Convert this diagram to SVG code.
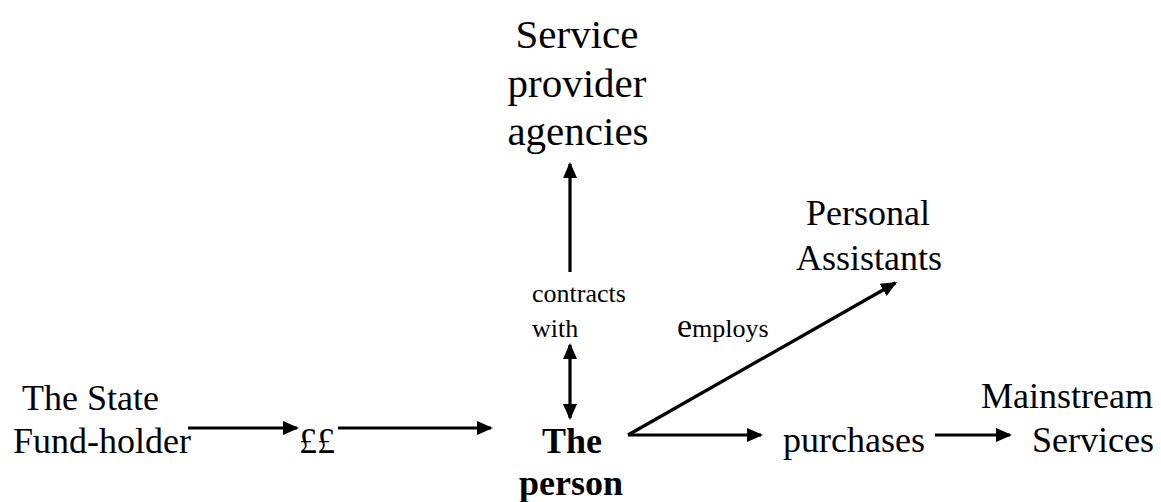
<svg xmlns="http://www.w3.org/2000/svg" width="1161" height="502" viewBox="0 0 1161 502">
<style>
.lbl { font-size: 36px; }
.big { font-size: 41px; }
.sm { font-size: 26px; }
.bold { font-size: 36px; font-weight: bold; }
.conn line { stroke: #000; stroke-width: 3.2; fill: none; }
</style>
<defs>
<marker id="ah" markerUnits="userSpaceOnUse" markerWidth="16" markerHeight="14" viewBox="0 0 16 14" refX="14" refY="7" orient="auto-start-reverse">
<path d="M0,0 L16,7 L0,14 z" fill="#000"/>
</marker>
</defs>
<g font-family="'Liberation Serif', 'DejaVu Serif', serif" fill="#000">
<g id="state">
<text class="lbl" x="22" y="410">The State</text>
<text class="lbl" x="13" y="453">Fund-holder</text>
</g>
<g id="money">
<text class="lbl" x="299" y="453">££</text>
</g>
<g id="person" text-anchor="middle">
<text class="bold" x="572" y="453">The</text>
<text class="bold" x="571" y="495">person</text>
</g>
<g id="agencies" text-anchor="middle">
<text class="big" x="577" y="48">Service</text>
<text class="big" x="577" y="97">provider</text>
<text class="big" x="578" y="145">agencies</text>
</g>
<g id="assistants" text-anchor="middle">
<text class="lbl" x="868" y="225">Personal</text>
<text class="lbl" x="869" y="270">Assistants</text>
</g>
<g id="purchases">
<text class="lbl" x="783" y="452">purchases</text>
</g>
<g id="mainstream" text-anchor="end">
<text class="lbl" x="1153" y="408">Mainstream</text>
<text class="lbl" x="1154" y="452">Services</text>
</g>
<g id="labels">
<text class="sm" x="532" y="302">contracts</text>
<text class="sm" x="532" y="337">with</text>
<text class="sm" x="677" y="337"><tspan font-size="34">e</tspan>mploys</text>
</g>
</g>
<g class="conn" id="connectors">
<line x1="188" y1="428" x2="297" y2="428" marker-end="url(#ah)"/>
<line x1="338" y1="428" x2="491" y2="428" marker-end="url(#ah)"/>
<line x1="570" y1="272" x2="570" y2="164" marker-end="url(#ah)"/>
<line x1="570" y1="345" x2="570" y2="418" marker-start="url(#ah)" marker-end="url(#ah)"/>
<line x1="628" y1="435" x2="761" y2="435" marker-end="url(#ah)"/>
<line x1="628" y1="435" x2="895.3" y2="283" marker-end="url(#ah)"/>
<line x1="935" y1="435" x2="1010" y2="435" marker-end="url(#ah)"/>
</g>
</svg>
